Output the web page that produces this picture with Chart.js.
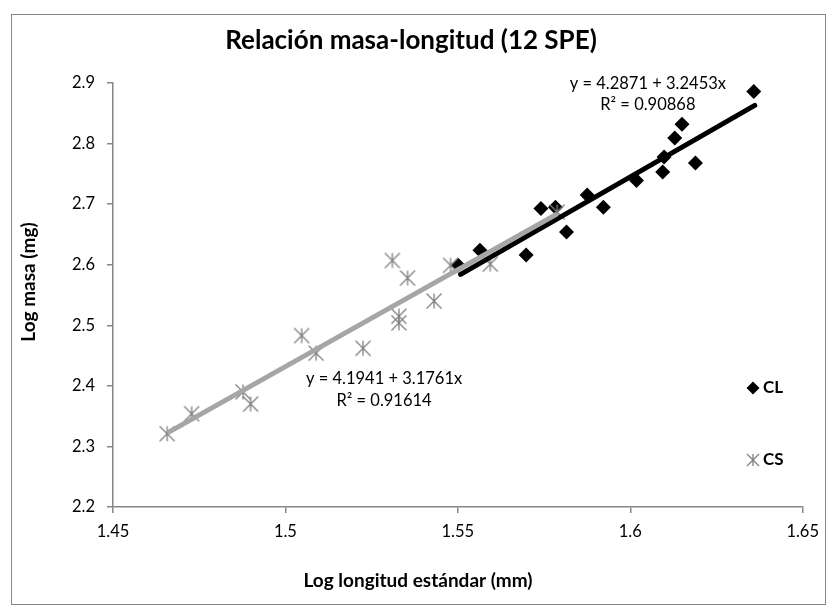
<!DOCTYPE html>
<html>
<head>
<meta charset="utf-8">
<script src="https://cdn.jsdelivr.net/npm/chart.js@4"></script>
<style>
    html, body { margin: 0; padding: 0; background: #fff; }
    #wrap { width: 828px; height: 608px; }
</style>
</head>
<body>
<div id="wrap"><canvas id="grafica" width="828" height="608"></canvas></div>
<script>
// Datos
const clX = [1.5501, 1.5564, 1.5698, 1.5741, 1.5783, 1.5815, 1.5875, 1.5922, 1.6018, 1.6094, 1.6098, 1.6129, 1.6150, 1.6189, 1.6358];
const clY = [2.599, 2.624, 2.616, 2.693, 2.695, 2.654, 2.715, 2.695, 2.739, 2.753, 2.778, 2.809, 2.832, 2.768, 2.886];
const csX = [1.4657, 1.4728, 1.4877, 1.4899, 1.5047, 1.5089, 1.5225, 1.5310, 1.5329, 1.5329, 1.5354, 1.5431, 1.5479, 1.5594, 1.5788];
const csY = [2.321, 2.354, 2.390, 2.370, 2.483, 2.454, 2.462, 2.607, 2.515, 2.504, 2.578, 2.540, 2.599, 2.601, 2.687];

// Líneas de tendencia (extremos)
const clTrendX = [1.5508, 1.6361];
const clTrendY = [2.584, 2.863];
const csTrendX = [1.4658, 1.5788];
const csTrendY = [2.3224, 2.684];

// Etiquetas de los ejes
const xTicks = [1.45, 1.5, 1.55, 1.6, 1.65];
const yTicks = [2.2, 2.3, 2.4, 2.5, 2.6, 2.7, 2.8, 2.9];

const titulo = "Relación masa-longitud (12 SPE)";
const tituloX = "Log longitud estándar (mm)";
const tituloY = "Log masa (mg)";
const series = ["CL", "CS"];

// Ecuaciones: texto y posición en unidades de los datos
const ecuacionTexto = [["y = 4.2871 + 3.2453x", "R² = 0.90868"], ["y = 4.1941 + 3.1761x", "R² = 0.91614"]];
const ecuacionX = [1.6051, 1.5286];
const ecuacionY = [[2.8995, 2.865], [2.4125, 2.376]];

const gris = '#868686';
const fuente = 'Lato';

function dibujarAsterisco(ctx, x, y, r, color) {
    ctx.save();
    ctx.strokeStyle = color;
    ctx.lineWidth = 1.3;
    ctx.beginPath();
    ctx.moveTo(x, y - r); ctx.lineTo(x, y + r);
    ctx.moveTo(x - r, y - r); ctx.lineTo(x + r, y + r);
    ctx.moveTo(x - r, y + r); ctx.lineTo(x + r, y - r);
    ctx.stroke();
    ctx.restore();
}

function dibujarRombo(ctx, x, y, r, color) {
    ctx.save();
    ctx.fillStyle = color;
    ctx.beginPath();
    ctx.moveTo(x, y - r); ctx.lineTo(x + r, y); ctx.lineTo(x, y + r); ctx.lineTo(x - r, y);
    ctx.closePath();
    ctx.fill();
    ctx.restore();
}

// marcador asterisco como imagen
const asterisco = document.createElement('canvas');
asterisco.width = 20; asterisco.height = 20;
dibujarAsterisco(asterisco.getContext('2d'), 10, 10, 7.5, '#808080');

const decoraciones = {
    id: 'decoraciones',
    beforeDraw(chart) {
        const ctx = chart.ctx;
        ctx.save();
        ctx.fillStyle = '#fff';
        ctx.fillRect(0, 0, chart.width, chart.height);
        ctx.strokeStyle = gris;
        ctx.lineWidth = 1;
        ctx.strokeRect(11.5, 14.5, 814, 590);
        ctx.restore();
    },
    afterDraw(chart) {
        const ctx = chart.ctx;
        const xs = chart.scales.x, ys = chart.scales.y;
        ctx.save();
        ctx.fillStyle = '#000';
        ctx.textAlign = 'center';
        ctx.textBaseline = 'alphabetic';

        ctx.font = 'bold 26px ' + fuente;
        ctx.fillText(titulo, 411, 49);

        ctx.font = 'bold 19px ' + fuente;
        ctx.fillText(tituloX, 418, 587);
        ctx.save();
        ctx.translate(28, 282);
        ctx.rotate(-Math.PI / 2);
        ctx.fillText(tituloY, 0, 7);
        ctx.restore();

        ctx.textBaseline = 'middle';
        ctx.font = '16.5px ' + fuente;
        for (let i = 0; i < ecuacionTexto.length; i++) {
            for (let j = 0; j < 2; j++) {
                ctx.fillText(ecuacionTexto[i][j], xs.getPixelForValue(ecuacionX[i]), ys.getPixelForValue(ecuacionY[i][j]));
            }
        }

        // leyenda
        dibujarRombo(ctx, 753, 388, 6.5, '#000');
        dibujarAsterisco(ctx, 753, 460, 6, '#808080');
        ctx.font = 'bold 17px ' + fuente;
        ctx.textAlign = 'left';
        ctx.fillText(series[0], 763, 388);
        ctx.fillText(series[1], 763, 460);
        ctx.restore();
    }
};

const puntos = (xs, ys) => xs.map((x, i) => ({ x: x, y: ys[i] }));
const etiqueta = v => String(Math.round(v * 100) / 100);

const ctx = document.getElementById('grafica').getContext('2d');
const chart = new Chart(ctx, {
    type: 'scatter',
    data: {
        datasets: [
            {
                label: series[1] + ' tendencia',
                data: puntos(csTrendX, csTrendY),
                showLine: true,
                borderColor: '#a6a6a6',
                borderWidth: 5,
                pointRadius: 0,
                order: 0
            },
            {
                label: series[0] + ' tendencia',
                data: puntos(clTrendX, clTrendY),
                showLine: true,
                borderColor: '#000',
                borderWidth: 5,
                borderCapStyle: 'round',
                pointRadius: 0,
                order: 1
            },
            {
                label: series[1],
                data: puntos(csX, csY),
                pointStyle: asterisco,
                order: 2
            },
            {
                label: series[0],
                data: puntos(clX, clY),
                pointStyle: 'rectRot',
                pointRadius: 7.5,
                backgroundColor: '#000',
                borderColor: '#000',
                borderWidth: 0,
                order: 3
            }
        ]
    },
    options: {
        responsive: false,
        animation: false,
        layout: { padding: { left: 0, right: 25, top: 83, bottom: 0 } },
        plugins: {
            legend: { display: false },
            tooltip: { enabled: false },
            title: { display: false }
        },
        scales: {
            x: {
                type: 'linear',
                min: 1.45,
                max: 1.65,
                afterFit: s => { s.height = 101; },
                afterBuildTicks: s => { s.ticks = xTicks.map(v => ({ value: v })); },
                border: { color: gris, width: 1.5 },
                grid: { drawOnChartArea: false, color: gris, tickLength: 6, lineWidth: 1.5 },
                ticks: {
                    color: '#000',
                    padding: 9,
                    maxRotation: 0,
                    callback: etiqueta,
                    font: { family: fuente, size: 16.5 }
                }
            },
            y: {
                type: 'linear',
                min: 2.2,
                max: 2.9,
                afterFit: s => { s.width = 113; },
                afterBuildTicks: s => { s.ticks = yTicks.map(v => ({ value: v })); },
                border: { color: gris, width: 1.5 },
                grid: { drawOnChartArea: false, color: gris, tickLength: 6, lineWidth: 1.5 },
                ticks: {
                    color: '#000',
                    padding: 12,
                    callback: etiqueta,
                    font: { family: fuente, size: 16.5 }
                }
            }
        }
    },
    plugins: [decoraciones]
});
</script>
</body>
</html>
